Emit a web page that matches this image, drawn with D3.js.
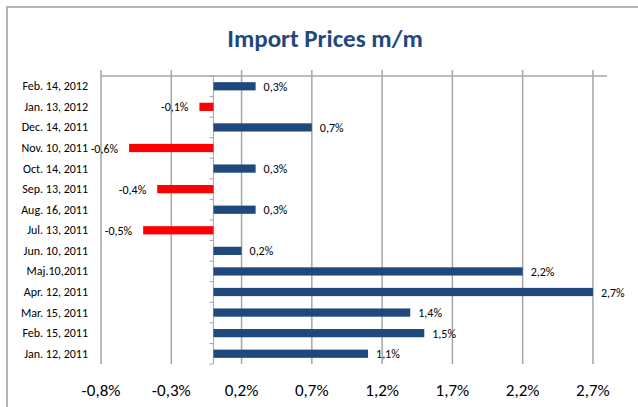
<!DOCTYPE html>
<html>
<head>
<meta charset="utf-8">
<script src="https://cdn.jsdelivr.net/npm/d3@7"></script>
<style>
body { margin: 0; background: #fff; }
svg { display: block; font-family: Carlito, "Liberation Sans Narrow", "DejaVu Sans Condensed", sans-serif; }
</style>
</head>
<body>
<svg id="chart" width="638" height="407"></svg>
<script>
// release dates, top to bottom as in the chart
var categories = ["Feb. 14, 2012", "Jan. 13, 2012", "Dec. 14, 2011", "Nov. 10, 2011",
                  "Oct. 14, 2011", "Sep. 13, 2011", "Aug. 16, 2011", "Jul. 13, 2011",
                  "Jun. 10, 2011", "Maj.10,2011", "Apr. 12, 2011", "Mar. 15, 2011",
                  "Feb. 15, 2011", "Jan. 12, 2011"];
var values = [0.3, -0.1, 0.7, -0.6, 0.3, -0.4, 0.3, -0.5, 0.2, 2.2, 2.7, 1.4, 1.5, 1.1];
var tickValues = [-0.8, -0.3, 0.2, 0.7, 1.2, 1.7, 2.2, 2.7];

var svg = d3.select("#chart");
var fmt = function(v) { return d3.format(".1f")(v).replace(".", ",").replace("\u2212", "-") + "%"; };

// outer frame (only left and top visible)
svg.append("path")
    .attr("d", "M7,407V7H638")
    .attr("fill", "none")
    .attr("stroke", "#b4b4b4")
    .attr("stroke-width", 2);

//Title
svg.append("text")
    .attr("x", 325).attr("y", 47)
    .attr("text-anchor", "middle")
    .attr("font-size", 25).attr("font-weight", "bold")
    .attr("fill", "#1f497d")
    .text("Import Prices m/m");

var x = d3.scaleLinear().domain([-0.8, 2.8]).range([101, 607]);
var y = d3.scaleBand().domain(categories).range([76, 364]).paddingInner(0.6).paddingOuter(0.3);
var step = y.step();

//Gridlines
svg.append("g").selectAll("line").data(tickValues).enter().append("line")
    .attr("x1", function(d) { return x(d); }).attr("x2", function(d) { return x(d); })
    .attr("y1", 70).attr("y2", 364)
    .attr("stroke", "#a6a6a6").attr("stroke-width", 1.5);

svg.append("line")
    .attr("x1", x(-0.8)).attr("x2", x(2.8))
    .attr("y1", 76).attr("y2", 76)
    .attr("stroke", "#a6a6a6").attr("stroke-width", 1.5);

//Value axis labels
svg.append("g").selectAll("text").data(tickValues).enter().append("text")
    .attr("x", function(d) { return x(d); }).attr("y", 396)
    .attr("text-anchor", "middle")
    .attr("font-size", 17).attr("fill", "#000")
    .text(fmt);

//Category axis on the zero line
var catAxis = svg.append("g");
catAxis.append("line")
    .attr("x1", x(0)).attr("x2", x(0)).attr("y1", 76).attr("y2", 364)
    .attr("stroke", "#a6a6a6").attr("stroke-width", 1);
catAxis.selectAll("line.tick").data(d3.range(categories.length + 1)).enter().append("line")
    .attr("class", "tick")
    .attr("x1", x(0) - 4).attr("x2", x(0))
    .attr("y1", function(i) { return 76 + i * step; }).attr("y2", function(i) { return 76 + i * step; })
    .attr("stroke", "#a6a6a6").attr("stroke-width", 1);

//Category labels
svg.append("g").selectAll("text").data(categories).enter().append("text")
    .attr("x", 88).attr("y", function(d) { return y(d) + y.bandwidth() / 2 + 4; })
    .attr("text-anchor", "end")
    .attr("font-size", 12).attr("fill", "#000")
    .text(function(d) { return d; });

//Bars
svg.append("g").selectAll("rect").data(values).enter().append("rect")
    .attr("x", function(d) { return x(Math.min(0, d)); })
    .attr("y", function(d, i) { return y(categories[i]); })
    .attr("width", function(d) { return Math.abs(x(d) - x(0)); })
    .attr("height", y.bandwidth())
    .attr("fill", function(d) { return d < 0 ? "#ff0000" : "#1f497d"; });

//Value labels
svg.append("g").selectAll("text").data(values).enter().append("text")
    .attr("x", function(d) { return d < 0 ? x(d) - 11 : x(d) + 8; })
    .attr("y", function(d, i) { return y(categories[i]) + y.bandwidth() / 2 + 4.5; })
    .attr("text-anchor", function(d) { return d < 0 ? "end" : "start"; })
    .attr("font-size", 12).attr("fill", "#000")
    .text(fmt);
</script>
</body>
</html>
